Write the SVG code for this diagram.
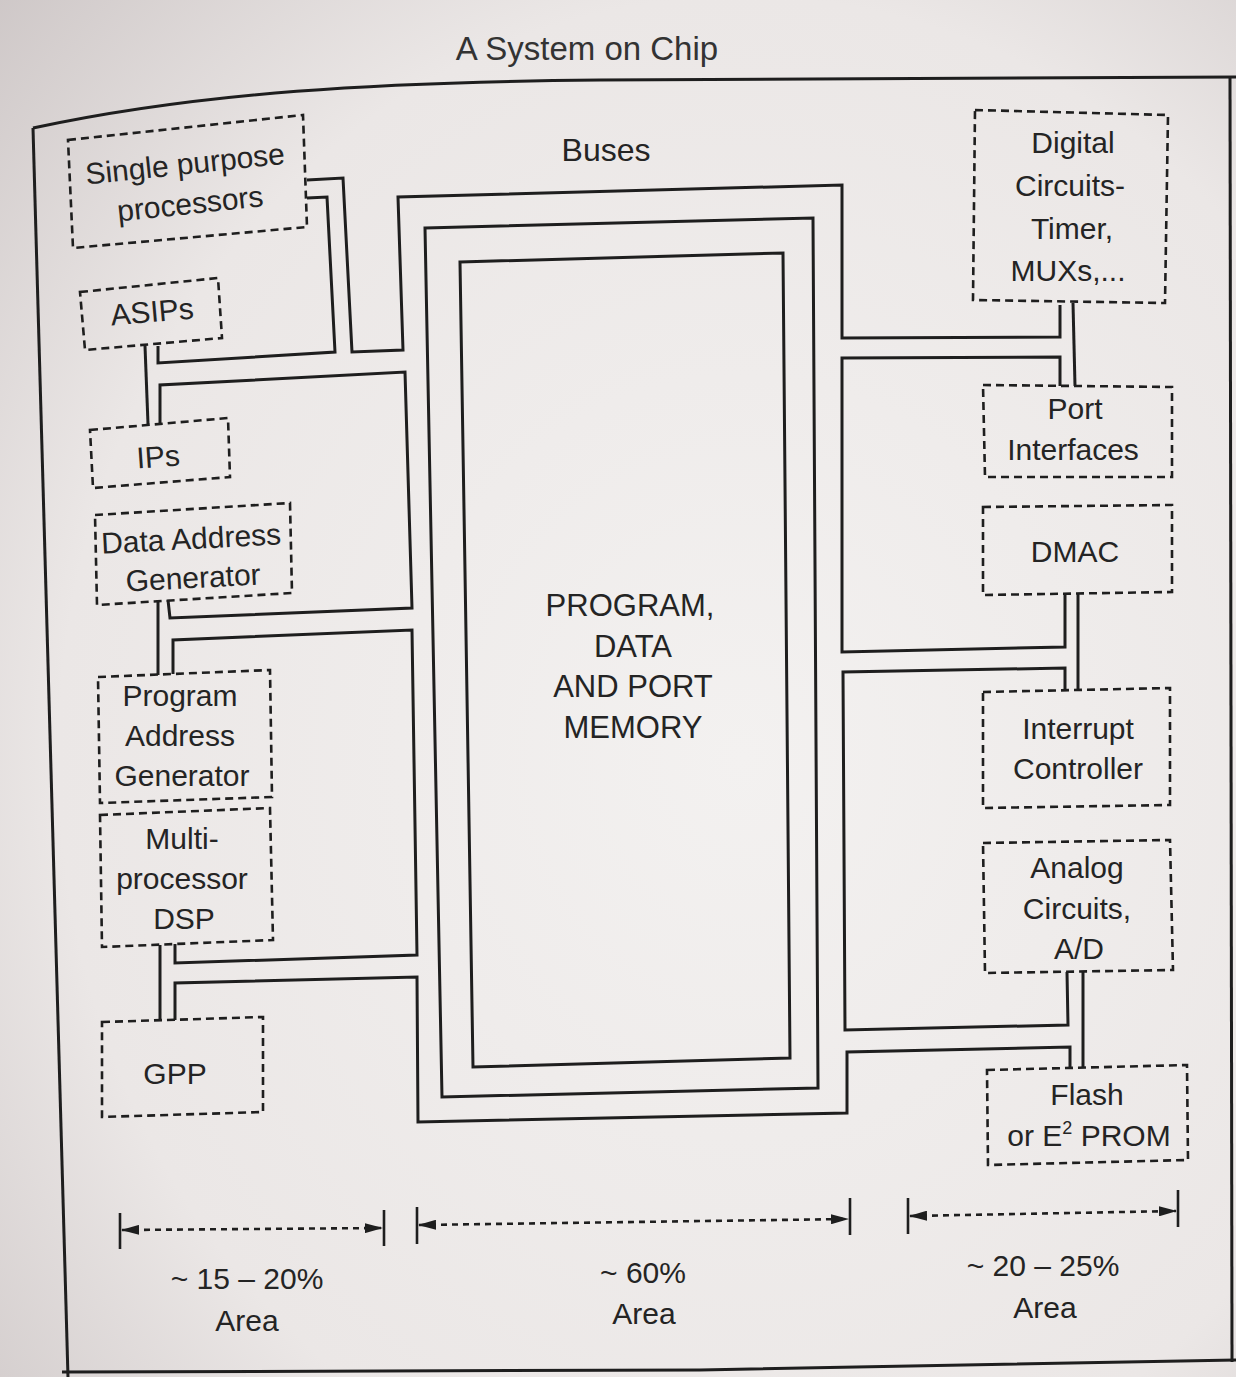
<svg xmlns="http://www.w3.org/2000/svg" width="1236" height="1377" viewBox="0 0 1236 1377">
  <defs>
    <radialGradient id="paper" cx="0.6" cy="0.55" r="0.85">
      <stop offset="0" stop-color="#f3f1f0"/>
      <stop offset="0.65" stop-color="#ebe7e6"/>
      <stop offset="1" stop-color="#cbc4c4"/>
    </radialGradient>
    <marker id="ah" viewBox="0 0 18 10" refX="17" refY="5" markerWidth="18" markerHeight="10" markerUnits="userSpaceOnUse" orient="auto-start-reverse">
      <path d="M0,0 L18,5 L0,10 Z" fill="#1e1e1e"/>
    </marker>
    <style>
      .wire{fill:none;stroke:#1e1e1e;stroke-width:3;stroke-linejoin:miter}
      .box{fill:none;stroke:#1e1e1e;stroke-width:2.6;stroke-dasharray:8 5}
      .solid{fill:none;stroke:#1e1e1e;stroke-width:3}
      .t{font-family:"Liberation Sans",Arial,sans-serif;font-size:30px;fill:#242424;text-anchor:middle}
      .title{font-family:"Liberation Sans",Arial,sans-serif;font-size:33px;fill:#333;text-anchor:middle}
      .dim{fill:none;stroke:#1e1e1e;stroke-width:2.6;stroke-dasharray:6 5}
      .tick{fill:none;stroke:#1e1e1e;stroke-width:2.6}
    </style>
  </defs>

  <rect x="0" y="0" width="1236" height="1377" fill="url(#paper)"/>

  <g id="title">
    <text class="title" x="587" y="60">A System on Chip</text>
  </g>

  <g id="chip-outline">
    <path class="solid" d="M33,128 C200,92 380,82 600,80 L1236,77"/>
    <path class="solid" d="M1230,78 L1232,1362"/>
    <path class="solid" d="M62,1372 L700,1370 L1236,1360"/>
    <path class="solid" d="M33,128 L68,1377"/>
  </g>

  <g id="connectors">
    <path class="wire" d="M307,180 L343,178 L352,352 L403,350 L398,197 L842,185 L842,338 L1060,337 L1060,305"/>
    <path class="wire" d="M307,198 L327,197 L335,352 L158,363 L158,346"/>
    <path class="wire" d="M160,424 L160,385 L405,372 L412,608 L170,618 L168,600"/>
    <path class="wire" d="M173,674 L173,640 L412,630 L417,955 L175,963 L175,944"/>
    <path class="wire" d="M175,1020 L175,983 L417,977 L418,1122 L847,1113 L847,1052 L1070,1047 L1070,1067"/>
    <path class="wire" d="M1067,972 L1068,1025 L845,1030 L843,672 L1065,668 L1065,690"/>
    <path class="wire" d="M1065,594 L1065,647 L842,652 L842,358 L1060,357 L1060,386"/>
    <path class="wire" d="M145,346 L148,424"/>
    <path class="wire" d="M158,600 L158,675"/>
    <path class="wire" d="M160,945 L160,1020"/>
    <path class="wire" d="M1073,303 L1075,386"/>
    <path class="wire" d="M1078,593 L1078,689"/>
    <path class="wire" d="M1083,972 L1083,1067"/>
  </g>

  <g id="buses">
    <polygon class="solid" points="425,228 813,218 818,1088 442,1097"/>
    <text class="t" x="606" y="161" style="font-size:32px">Buses</text>
  </g>

  <g id="memory">
    <polygon class="solid" points="460,262 783,253 790,1058 473,1067"/>
    <text class="t" x="630" y="616" style="font-size:31px">PROGRAM,</text>
    <text class="t" x="633" y="657" style="font-size:31px">DATA</text>
    <text class="t" x="633" y="697" style="font-size:31px">AND PORT</text>
    <text class="t" x="633" y="738" style="font-size:31px">MEMORY</text>
  </g>

  <g id="single-purpose-processors">
    <polygon class="box" points="68,140 303,115 307,227 73,248"/>
    <g transform="rotate(-6 188 183)">
      <text class="t" x="187" y="174">Single purpose</text>
      <text class="t" x="188" y="214">processors</text>
    </g>
  </g>

  <g id="asips">
    <polygon class="box" points="80,292 218,278 222,338 85,350"/>
    <text class="t" x="152" y="322" transform="rotate(-5 152 311)">ASIPs</text>
  </g>

  <g id="ips">
    <polygon class="box" points="90,430 228,418 230,477 93,488"/>
    <text class="t" x="158" y="467" transform="rotate(-4 158 456)">IPs</text>
  </g>

  <g id="data-address-generator">
    <polygon class="box" points="95,515 290,503 292,593 97,605"/>
    <g transform="rotate(-3 192 557)">
      <text class="t" x="192" y="549">Data Address</text>
      <text class="t" x="192" y="588">Generator</text>
    </g>
  </g>

  <g id="program-address-generator">
    <polygon class="box" points="98,677 270,670 272,797 100,803"/>
    <text class="t" x="180" y="706">Program</text>
    <text class="t" x="180" y="746">Address</text>
    <text class="t" x="182" y="786">Generator</text>
  </g>

  <g id="multiprocessor-dsp">
    <polygon class="box" points="100,815 270,808 273,940 102,947"/>
    <text class="t" x="182" y="849">Multi-</text>
    <text class="t" x="182" y="889">processor</text>
    <text class="t" x="184" y="929">DSP</text>
  </g>

  <g id="gpp">
    <polygon class="box" points="102,1022 263,1017 263,1112 102,1117"/>
    <text class="t" x="175" y="1084">GPP</text>
  </g>

  <g id="digital-circuits">
    <polygon class="box" points="975,110 1168,115 1165,303 973,300"/>
    <text class="t" x="1073" y="153">Digital</text>
    <text class="t" x="1070" y="196">Circuits-</text>
    <text class="t" x="1072" y="239">Timer,</text>
    <text class="t" x="1068" y="281">MUXs,...</text>
  </g>

  <g id="port-interfaces">
    <polygon class="box" points="983,385 1172,387 1172,477 985,477"/>
    <text class="t" x="1075" y="419">Port</text>
    <text class="t" x="1073" y="460">Interfaces</text>
  </g>

  <g id="dmac">
    <polygon class="box" points="983,507 1172,505 1172,592 983,595"/>
    <text class="t" x="1075" y="562">DMAC</text>
  </g>

  <g id="interrupt-controller">
    <polygon class="box" points="983,692 1170,688 1170,805 983,808"/>
    <text class="t" x="1078" y="739">Interrupt</text>
    <text class="t" x="1078" y="779">Controller</text>
  </g>

  <g id="analog-circuits">
    <polygon class="box" points="983,843 1170,840 1173,970 985,973"/>
    <text class="t" x="1077" y="878">Analog</text>
    <text class="t" x="1077" y="919">Circuits,</text>
    <text class="t" x="1079" y="959">A/D</text>
  </g>

  <g id="flash-eeprom">
    <polygon class="box" points="987,1070 1187,1065 1188,1160 988,1165"/>
    <text class="t" x="1087" y="1105">Flash</text>
    <text class="t" x="1089" y="1146">or E<tspan dy="-12" style="font-size:18px">2</tspan><tspan dy="12"> PROM</tspan></text>
  </g>

  <g id="area-dimensions">
    <path class="tick" d="M120,1213 L120,1249 M384,1210 L384,1246"/>
    <path class="dim" d="M122,1230 L382,1228" marker-start="url(#ah)" marker-end="url(#ah)"/>
    <text class="t" x="247" y="1289">~ 15 – 20%</text>
    <text class="t" x="247" y="1331">Area</text>

    <path class="tick" d="M417,1207 L417,1244 M850,1198 L850,1235"/>
    <path class="dim" d="M419,1225 L848,1219" marker-start="url(#ah)" marker-end="url(#ah)"/>
    <text class="t" x="643" y="1283">~ 60%</text>
    <text class="t" x="644" y="1324">Area</text>

    <path class="tick" d="M908,1198 L908,1234 M1178,1190 L1178,1227"/>
    <path class="dim" d="M910,1216 L1176,1211" marker-start="url(#ah)" marker-end="url(#ah)"/>
    <text class="t" x="1043" y="1276">~ 20 – 25%</text>
    <text class="t" x="1045" y="1318">Area</text>
  </g>
</svg>
